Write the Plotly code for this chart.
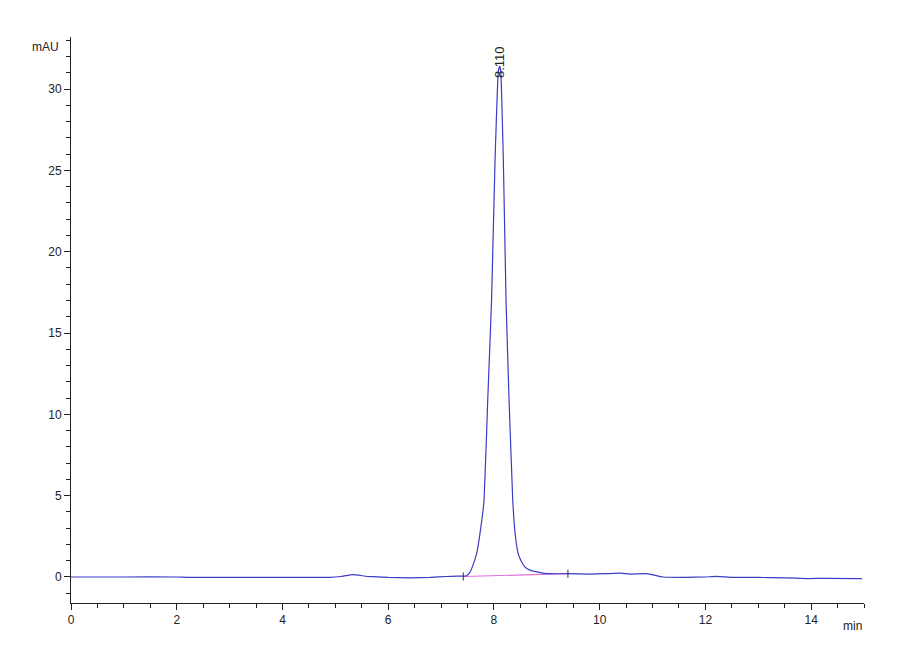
import plotly.graph_objects as go

# chromatogram (time in min, signal in mAU)
time_min = [0, 1, 2, 2.2, 3, 4, 4.9, 5.1, 5.33, 5.6, 6.0, 6.4, 6.8, 7.1, 7.3, 7.42,
            7.48, 7.54, 7.6, 7.675, 7.737, 7.813, 7.883, 7.955, 8.021, 8.084, 8.11,
            8.129, 8.178, 8.229, 8.286, 8.356, 8.40, 8.456, 8.52, 8.589, 8.68,
            8.816, 8.93, 9.06, 9.4, 9.8, 10.1, 10.39, 10.6, 10.89, 11.2, 11.6,
            12.0, 12.21, 12.5, 13.0, 13.5, 13.92, 14.3, 14.96]
signal_mau = [0.0, 0.0, 0.0, -0.02, -0.03, -0.03, -0.02, 0.03, 0.14, 0.04, -0.03,
              -0.05, -0.02, 0.03, 0.05, 0.05,
              0.08, 0.25, 0.7, 1.47, 2.70, 4.72, 10.9, 17.0, 25.6, 31.1, 31.4,
              31.1, 25.6, 17.0, 10.9, 4.72, 2.70, 1.47, 0.95, 0.61, 0.42,
              0.31, 0.24, 0.2, 0.2, 0.18, 0.2, 0.24, 0.18, 0.2, 0.0, -0.02,
              0.0, 0.04, -0.02, -0.03, -0.05, -0.1, -0.08, -0.1]

# integration baseline of the peak
baseline_time = [7.42, 9.40]
baseline_mau = [0.03, 0.2]

peak_time = [8.11]
peak_height = [31.4]
peak_labels = ["8.110"]

x_ticks = [0, 2, 4, 6, 8, 10, 12, 14]
y_ticks = [0, 5, 10, 15, 20, 25, 30]

font_name = "Liberation Sans Narrow, Liberation Sans, Arial"

fig = go.Figure()
fig.add_trace(go.Scatter(x=baseline_time, y=baseline_mau, mode="lines",
                         line=dict(color="#e070d8", width=1.2), hoverinfo="skip"))
fig.add_trace(go.Scatter(x=time_min, y=signal_mau, mode="lines",
                         line=dict(color="#3c3cc4", width=1.2, shape="spline", smoothing=0.3)))

# small integration marks at start and end of the baseline
for t, v in zip(baseline_time, baseline_mau):
    fig.add_trace(go.Scatter(x=[t, t], y=[v - 0.25, v + 0.25], mode="lines",
                             line=dict(color="#333333", width=1), hoverinfo="skip"))

for t, h, lab in zip(peak_time, peak_height, peak_labels):
    fig.add_annotation(x=t, y=h, text=lab, textangle=-90, showarrow=False,
                       yanchor="bottom", yshift=-14,
                       font=dict(size=13, color="#222222", family="Liberation Sans, Arial"))

fig.add_annotation(xref="paper", yref="paper", x=-0.012, y=1.0, text="mAU",
                   showarrow=False, xanchor="right", yanchor="top", yshift=-1,
                   font=dict(size=12, color="#222222", family=font_name))
fig.add_annotation(xref="paper", yref="paper", x=1.0, y=0, text="min",
                   showarrow=False, xanchor="right", yanchor="top", yshift=-14,
                   font=dict(size=12, color="#222222", family=font_name))

fig.update_xaxes(range=[0, 15], tickvals=x_ticks, ticks="outside", ticklen=6,
                 tickcolor="#222222", showline=True, linecolor="#222222", linewidth=1,
                 showgrid=False, zeroline=False,
                 minor=dict(dtick=0.5, ticks="outside", ticklen=4, tickcolor="#222222"),
                 tickfont=dict(size=12, color="#222222", family=font_name))
fig.update_yaxes(range=[-1.6, 33.2], tickvals=y_ticks, ticks="outside", ticklen=6,
                 tickcolor="#222222", showline=True, linecolor="#222222", linewidth=1,
                 showgrid=False, zeroline=False,
                 minor=dict(dtick=1, ticks="outside", ticklen=4, tickcolor="#222222"),
                 tickfont=dict(size=12, color="#222222", family=font_name))

fig.update_layout(width=892, height=652, showlegend=False,
                  plot_bgcolor="white", paper_bgcolor="white",
                  margin=dict(l=63, r=36, t=29, b=57))

fig.write_html("out.html")
